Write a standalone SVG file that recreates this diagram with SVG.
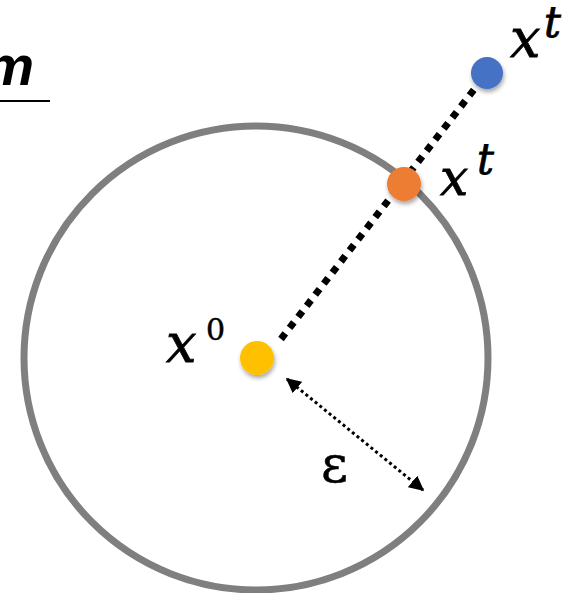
<svg xmlns="http://www.w3.org/2000/svg" width="578" height="593" viewBox="0 0 578 593">
<style>
.math{font-family:"DejaVu Serif",serif;font-style:italic;fill:#000;stroke:#000;stroke-width:0.8}
.up{font-family:"DejaVu Serif",serif;fill:#000;stroke:#000;stroke-width:0.5}
</style>
<defs>
<filter id="sh" x="-50%" y="-50%" width="200%" height="200%">
<feDropShadow dx="1" dy="3" stdDeviation="2" flood-color="#000" flood-opacity="0.35"/>
</filter>
<marker id="ah" viewBox="0 0 10 10" refX="9" refY="5" markerWidth="5" markerHeight="5" orient="auto-start-reverse" markerUnits="strokeWidth">
<path d="M0,0 L10,5 L0,10 z" fill="#000"/>
</marker>
</defs>
<rect width="578" height="593" fill="#fff"/>
<g id="title">
<text x="34" y="85" text-anchor="end" font-family="Liberation Sans,Arial,sans-serif" font-weight="bold" font-style="italic" font-size="56">m</text>
<line x1="0" y1="101" x2="50" y2="101" stroke="#000" stroke-width="2"/>
</g>
<g id="ball">
<circle cx="256" cy="358" r="232" fill="none" stroke="#7f7f7f" stroke-width="7"/>
</g>
<g id="connectors">
<line x1="281" y1="339" x2="476" y2="87" stroke="#000" stroke-width="7" stroke-dasharray="7 7"/>
<line x1="287" y1="379" x2="423" y2="490" stroke="#000" stroke-width="3" stroke-dasharray="3 3" marker-start="url(#ah)" marker-end="url(#ah)"/>
</g>
<g id="x0">
<circle cx="257" cy="358" r="17" fill="#ffc000" filter="url(#sh)"/>
<text class="math" x="166" y="362" font-size="54">x</text>
<text class="up" x="206" y="340" font-size="30">0</text>
</g>
<g id="xt-proj">
<circle cx="404" cy="184" r="17" fill="#ed7d31" filter="url(#sh)"/>
<text class="math" x="440" y="195" font-size="50">x</text>
<text class="math" x="477" y="174" font-size="42">t</text>
</g>
<g id="xt">
<circle cx="487" cy="73" r="16" fill="#4472c4" filter="url(#sh)"/>
<text class="math" x="510" y="57" font-size="54">x</text>
<text class="math" x="544" y="37" font-size="42">t</text>
</g>
<g id="eps">
<text class="up" x="321" y="482" font-size="52">ε</text>
</g>
</svg>
